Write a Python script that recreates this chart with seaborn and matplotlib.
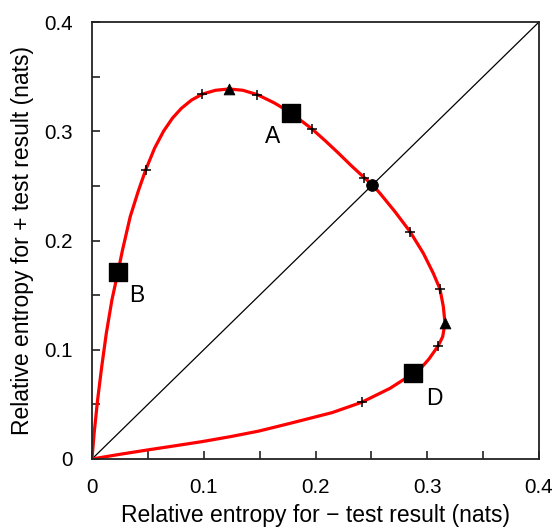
import matplotlib
matplotlib.use("Agg")
import matplotlib.pyplot as plt
import seaborn as sns
import pandas as pd
from matplotlib.ticker import MultipleLocator

# Curve traced along its path (x = relative entropy for - result, y = for + result)
curve_x = [0, 0.0019, 0.005, 0.0087, 0.0128, 0.0178, 0.0233, 0.0273, 0.0342, 0.0415,
           0.048, 0.056, 0.064, 0.072, 0.080, 0.089, 0.0987, 0.1106, 0.1226, 0.135,
           0.148, 0.163, 0.1778, 0.197, 0.2085, 0.220, 0.232, 0.2437, 0.251, 0.2577,
           0.2711, 0.2846, 0.2965, 0.3054, 0.3114, 0.3144, 0.3159, 0.3138, 0.3099, 0.3015,
           0.2955, 0.2876, 0.2667, 0.2413, 0.215, 0.189, 0.1736, 0.149, 0.124, 0.099, 0.075,
           0.0498, 0.025, 0]
curve_y = [0, 0.0235, 0.054, 0.0845, 0.115, 0.1455, 0.1714, 0.1913, 0.2218, 0.2455,
           0.2645, 0.2845, 0.300, 0.312, 0.321, 0.3285, 0.334, 0.3375, 0.3387, 0.3375,
           0.3335, 0.326, 0.317, 0.302, 0.2915, 0.2805, 0.2685, 0.2575, 0.251, 0.2432,
           0.2264, 0.2081, 0.1883, 0.17, 0.1556, 0.1394, 0.1242, 0.112, 0.1037, 0.0915,
           0.0845, 0.0784, 0.0647, 0.0519, 0.0425, 0.0357, 0.0317, 0.0255, 0.0205, 0.0160,
           0.0122, 0.0083, 0.0043, 0]

plus_x = [0.048, 0.0987, 0.148, 0.197, 0.2437, 0.2846, 0.3114, 0.3099, 0.2413]
plus_y = [0.2645, 0.334, 0.3335, 0.302, 0.2575, 0.2081, 0.1556, 0.1037, 0.0519]

tri_x = [0.1226, 0.3159]
tri_y = [0.3387, 0.1242]

circ_x = [0.251]
circ_y = [0.251]

sq_labels = ["A", "B", "D"]
sq_x = [0.1778, 0.0233, 0.2876]
sq_y = [0.317, 0.1714, 0.0784]
lab_x = [0.1617, 0.040, 0.306]
lab_y = [0.295, 0.150, 0.0556]

diag = [0, 0.4]
ticks = [0, 0.1, 0.2, 0.3, 0.4]
tick_labels = ["0", "0.1", "0.2", "0.3", "0.4"]

sns.set_theme(style="white")
plt.rcParams['font.family'] = ['Liberation Sans', 'DejaVu Sans']

fig = plt.figure(figsize=(5.52, 5.29), dpi=100)
ax = fig.add_axes([92/552, 1 - 459/529, 447/552, 437/529])

curve = pd.DataFrame({"x": curve_x, "y": curve_y})
sns.lineplot(x=diag, y=diag, ax=ax, color="black", linewidth=0.9)
sns.lineplot(data=curve, x="x", y="y", sort=False, estimator=None, ax=ax,
             color="#ff0000", linewidth=2.3, solid_joinstyle="round")
sns.scatterplot(x=plus_x, y=plus_y, ax=ax, marker="+", s=55, color="black",
                linewidth=1.1, zorder=5)
sns.scatterplot(x=tri_x, y=tri_y, ax=ax, marker="^", s=60, color="black",
                edgecolor="black", zorder=5)
sns.scatterplot(x=circ_x, y=circ_y, ax=ax, marker="o", s=70, color="black",
                edgecolor="black", zorder=5)
sns.scatterplot(x=sq_x, y=sq_y, ax=ax, marker="s", s=150, color="black",
                edgecolor="black", zorder=6)
for t, lx, ly in zip(sq_labels, lab_x, lab_y):
    ax.text(lx, ly, t, fontsize=16.5, ha="center", va="center", color="black")

ax.set_xlim(0, 0.4)
ax.set_ylim(0, 0.4)
ax.set_xticks(ticks)
ax.set_xticklabels(tick_labels)
ax.set_yticks(ticks)
ax.set_yticklabels(tick_labels)
ax.xaxis.set_minor_locator(MultipleLocator(0.05))
ax.yaxis.set_minor_locator(MultipleLocator(0.05))
ax.tick_params(which="both", direction="in", length=6, width=1.2, color="#222222",
               bottom=True, left=True, top=False, right=False)
ax.tick_params(which="major", labelsize=14.8, pad=14, labelcolor="black")
for s in ax.spines.values():
    s.set_color("#222222")
    s.set_linewidth(1.3)

ax.set_xlabel("Relative entropy for \u2212 test result (nats)", fontsize=16.5, labelpad=5, color="black")
ax.set_ylabel("Relative entropy for + test result (nats)", fontsize=16.5, labelpad=7, color="black")

fig.savefig("out.png", dpi=100)
